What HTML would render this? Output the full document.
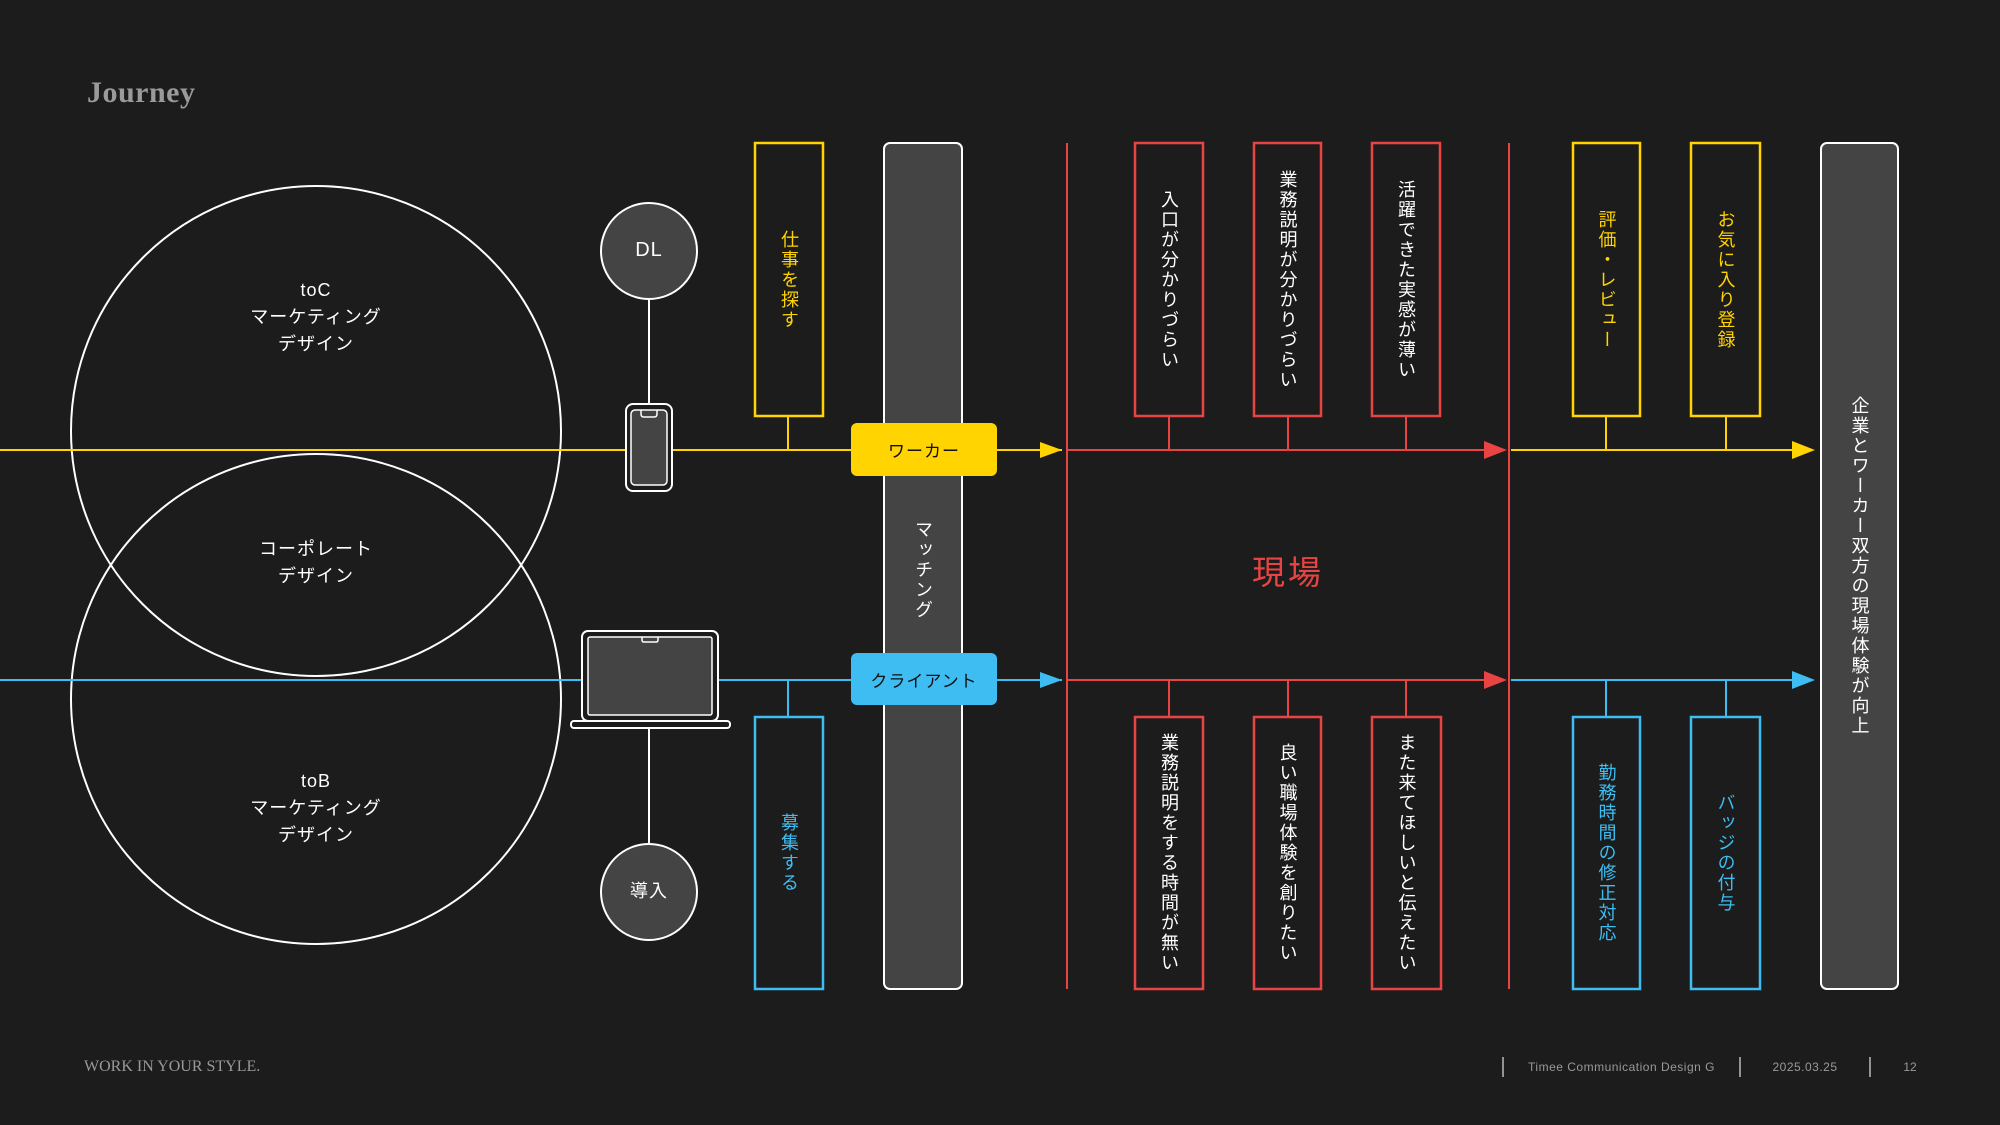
<!DOCTYPE html>
<html><head><meta charset="utf-8"><style>
*{margin:0;padding:0;box-sizing:border-box}
body{width:2000px;height:1125px;background:#1c1c1c;position:relative;overflow:hidden;font-family:"Liberation Sans","Noto Sans CJK JP",sans-serif}
svg{position:absolute;left:0;top:0}
.v{position:absolute;display:flex;align-items:center;justify-content:center;writing-mode:vertical-rl;text-orientation:upright;font-size:18px;letter-spacing:2px;line-height:1}
.t{position:absolute;text-align:center;color:#fff;font-size:18px;line-height:27px;letter-spacing:1px}
.pill{position:absolute;display:flex;align-items:center;justify-content:center;font-size:17px;color:#111;border-radius:6px;letter-spacing:1px}
</style></head><body>
<svg width="2000" height="1125" viewBox="0 0 2000 1125">
<g fill="none" stroke="#fff" stroke-width="2">
<circle cx="316" cy="431" r="245"/>
<circle cx="316" cy="699" r="245"/>
</g>
<line x1="0" y1="450" x2="1062" y2="450" stroke="#FFD400" stroke-width="2"/>
<line x1="0" y1="680" x2="1062" y2="680" stroke="#3DBDF2" stroke-width="2"/>
<line x1="649" y1="299" x2="649" y2="404" stroke="#fff" stroke-width="2"/>
<line x1="649" y1="728" x2="649" y2="844" stroke="#fff" stroke-width="2"/>
<circle cx="649" cy="251" r="48" fill="#444" stroke="#fff" stroke-width="2"/>
<circle cx="649" cy="892" r="48" fill="#444" stroke="#fff" stroke-width="2"/>
<rect x="626" y="404" width="46" height="87" rx="7" fill="#1c1c1c" stroke="#fff" stroke-width="2"/>
<rect x="631" y="410" width="36" height="75" rx="4" fill="#444" stroke="#fff" stroke-width="1.5"/>
<path d="M641 410 v4 q0 3 3 3 h10 q3 0 3-3 v-4" fill="none" stroke="#fff" stroke-width="1.5"/>
<rect x="582" y="631" width="136" height="90" rx="6" fill="#1c1c1c" stroke="#fff" stroke-width="2"/>
<rect x="588" y="637" width="124" height="78" rx="2" fill="#444" stroke="#fff" stroke-width="1.5"/>
<path d="M642 637 v3 q0 2 2 2 h12 q2 0 2-2 v-3" fill="none" stroke="#fff" stroke-width="1.5"/>
<rect x="571" y="721" width="159" height="7" rx="3" fill="#1c1c1c" stroke="#fff" stroke-width="2"/>
<line x1="788" y1="416" x2="788" y2="450" stroke="#FFD400" stroke-width="2"/>
<line x1="788" y1="680" x2="788" y2="717" stroke="#3DBDF2" stroke-width="2"/>
<rect x="755" y="143" width="68" height="273" fill="none" stroke="#FFD400" stroke-width="2.5"/>
<rect x="755" y="717" width="68" height="272" fill="none" stroke="#3DBDF2" stroke-width="2.5"/>
<rect x="884" y="143" width="78" height="846" rx="6" fill="#444" stroke="#fff" stroke-width="2"/>
<polygon points="1040,442 1062,450 1040,458" fill="#FFD400"/>
<polygon points="1040,672 1062,680 1040,688" fill="#3DBDF2"/>
<g stroke="#E94444" stroke-width="2">
<line x1="1067" y1="143" x2="1067" y2="989"/>
<line x1="1509" y1="143" x2="1509" y2="989"/>
<line x1="1067" y1="450" x2="1490" y2="450"/>
<line x1="1067" y1="680" x2="1490" y2="680"/>
<line x1="1169" y1="416" x2="1169" y2="450"/><line x1="1288" y1="416" x2="1288" y2="450"/><line x1="1406" y1="416" x2="1406" y2="450"/>
<line x1="1169" y1="680" x2="1169" y2="717"/><line x1="1288" y1="680" x2="1288" y2="717"/><line x1="1406" y1="680" x2="1406" y2="717"/>
</g>
<g fill="none" stroke="#E94444" stroke-width="2.5">
<rect x="1135" y="143" width="68" height="273"/><rect x="1254" y="143" width="67" height="273"/><rect x="1372" y="143" width="68" height="273"/>
<rect x="1135" y="717" width="68" height="272"/><rect x="1254" y="717" width="67" height="272"/><rect x="1372" y="717" width="69" height="272"/>
</g>
<polygon points="1484,441 1507,450 1484,459" fill="#E94444"/>
<polygon points="1484,671 1507,680 1484,689" fill="#E94444"/>
<line x1="1511" y1="450" x2="1800" y2="450" stroke="#FFD400" stroke-width="2"/>
<line x1="1511" y1="680" x2="1800" y2="680" stroke="#3DBDF2" stroke-width="2"/>
<polygon points="1792,441 1815,450 1792,459" fill="#FFD400"/>
<polygon points="1792,671 1815,680 1792,689" fill="#3DBDF2"/>
<line x1="1606" y1="416" x2="1606" y2="450" stroke="#FFD400" stroke-width="2"/>
<line x1="1726" y1="416" x2="1726" y2="450" stroke="#FFD400" stroke-width="2"/>
<line x1="1606" y1="680" x2="1606" y2="717" stroke="#3DBDF2" stroke-width="2"/>
<line x1="1726" y1="680" x2="1726" y2="717" stroke="#3DBDF2" stroke-width="2"/>
<rect x="1573" y="143" width="67" height="273" fill="none" stroke="#FFD400" stroke-width="2.5"/>
<rect x="1691" y="143" width="69" height="273" fill="none" stroke="#FFD400" stroke-width="2.5"/>
<rect x="1573" y="717" width="67" height="272" fill="none" stroke="#3DBDF2" stroke-width="2.5"/>
<rect x="1691" y="717" width="69" height="272" fill="none" stroke="#3DBDF2" stroke-width="2.5"/>
<rect x="1821" y="143" width="77" height="846" rx="6" fill="#444" stroke="#fff" stroke-width="2"/>
<g stroke="#bbb" stroke-width="1.5">
<line x1="1503" y1="1057" x2="1503" y2="1077"/><line x1="1740" y1="1057" x2="1740" y2="1077"/><line x1="1870" y1="1057" x2="1870" y2="1077"/>
</g>
</svg>
<div style="position:absolute;left:87px;top:76px;font-family:'Liberation Serif',serif;font-weight:bold;font-size:30px;color:#9a9a9a;letter-spacing:0.5px">Journey</div>
<div class="t" style="left:216px;width:200px;top:277px">toC<br>マーケティング<br>デザイン</div>
<div class="t" style="left:216px;width:200px;top:536px">コーポレート<br>デザイン</div>
<div class="t" style="left:216px;width:200px;top:768px">toB<br>マーケティング<br>デザイン</div>
<div class="t" style="left:601px;width:96px;top:237px;font-size:20px">DL</div>
<div class="t" style="left:601px;width:96px;top:878px">導入</div>
<div class="pill" style="left:851px;top:423px;width:146px;height:53px;background:#FFD400">ワーカー</div>
<div class="pill" style="left:851px;top:653px;width:146px;height:52px;background:#3DBDF2">クライアント</div>
<div class="v" style="left:755px;top:143px;width:68px;height:273px;color:#FFD400">仕事を探す</div>
<div class="v" style="left:755px;top:717px;width:68px;height:272px;color:#3DBDF2">募集する</div>
<div class="v" style="left:884px;top:500px;width:78px;height:140px;color:#fff">マッチング</div>
<div class="v" style="left:1135px;top:143px;width:68px;height:273px;color:#fff">入口が分かりづらい</div>
<div class="v" style="left:1254px;top:143px;width:67px;height:273px;color:#fff">業務説明が分かりづらい</div>
<div class="v" style="left:1372px;top:143px;width:68px;height:273px;color:#fff">活躍できた実感が薄い</div>
<div class="v" style="left:1135px;top:717px;width:68px;height:272px;color:#fff">業務説明をする時間が無い</div>
<div class="v" style="left:1254px;top:717px;width:67px;height:272px;color:#fff">良い職場体験を創りたい</div>
<div class="v" style="left:1372px;top:717px;width:69px;height:272px;color:#fff">また来てほしいと伝えたい</div>
<div class="v" style="left:1573px;top:143px;width:67px;height:273px;color:#FFD400">評価・レビュー</div>
<div class="v" style="left:1691px;top:143px;width:69px;height:273px;color:#FFD400">お気に入り登録</div>
<div class="v" style="left:1573px;top:717px;width:67px;height:272px;color:#3DBDF2">勤務時間の修正対応</div>
<div class="v" style="left:1691px;top:717px;width:69px;height:272px;color:#3DBDF2">バッジの付与</div>
<div class="v" style="left:1821px;top:143px;width:77px;height:846px;color:#fff">企業とワーカー双方の現場体験が向上</div>
<div style="position:absolute;left:1208px;top:546px;width:160px;text-align:center;font-size:33px;color:#E94444;letter-spacing:3px">現場</div>
<div style="position:absolute;left:84px;top:1058px;font-family:'Liberation Serif',serif;font-size:16px;color:#999">WORK IN YOUR STYLE.</div>
<div style="position:absolute;left:1503px;width:237px;top:1060px;text-align:center;font-size:12px;color:#999;letter-spacing:0.5px">Timee Communication Design G</div>
<div style="position:absolute;left:1740px;width:130px;top:1060px;text-align:center;font-size:12px;color:#999;letter-spacing:0.5px">2025.03.25</div>
<div style="position:absolute;left:1870px;width:80px;top:1060px;text-align:center;font-size:12px;color:#999">12</div>
</body></html>
